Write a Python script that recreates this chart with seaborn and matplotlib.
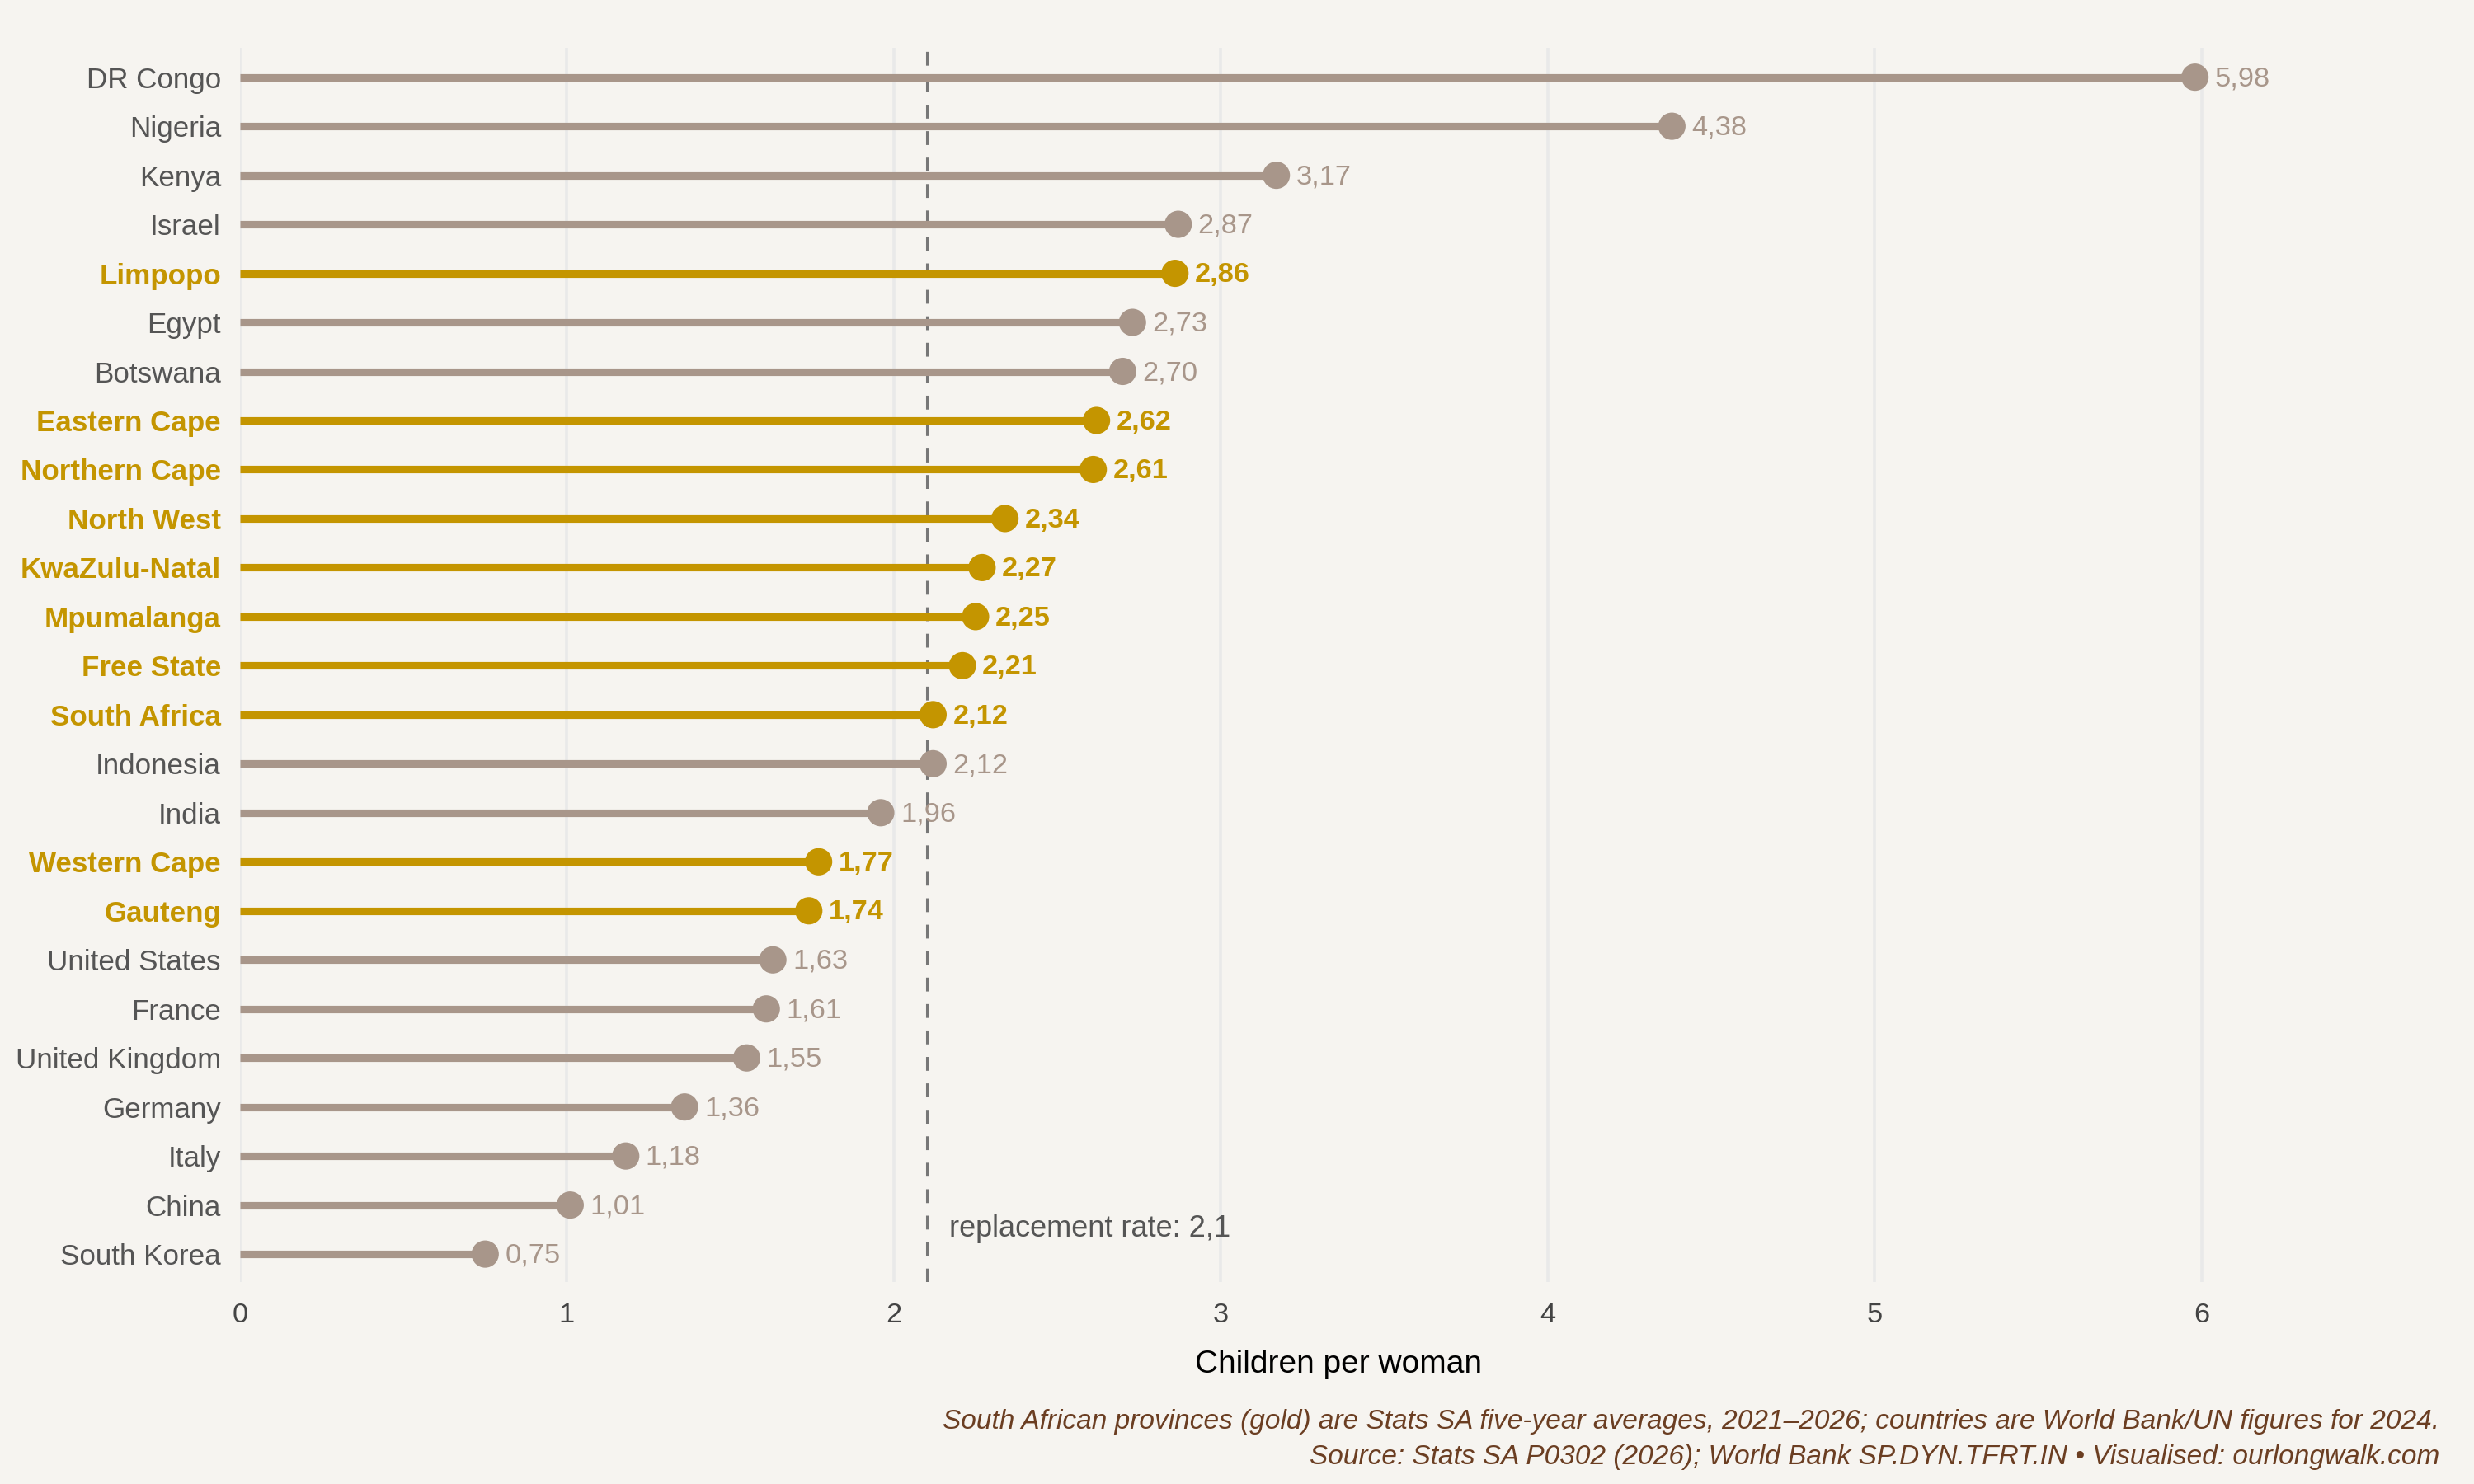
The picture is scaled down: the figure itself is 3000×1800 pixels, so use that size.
import numpy as np
import pandas as pd
import matplotlib
matplotlib.use("Agg")
import matplotlib.pyplot as plt
import seaborn as sns

# Data (top to bottom as in the chart)
places = [
    "DR Congo", "Nigeria", "Kenya", "Israel", "Limpopo", "Egypt", "Botswana",
    "Eastern Cape", "Northern Cape", "North West", "KwaZulu-Natal", "Mpumalanga",
    "Free State", "South Africa", "Indonesia", "India", "Western Cape", "Gauteng",
    "United States", "France", "United Kingdom", "Germany", "Italy", "China",
    "South Korea",
]
tfr = [
    5.98, 4.38, 3.17, 2.87, 2.86, 2.73, 2.70,
    2.62, 2.61, 2.34, 2.27, 2.25,
    2.21, 2.12, 2.12, 1.96, 1.77, 1.74,
    1.63, 1.61, 1.55, 1.36, 1.18, 1.01,
    0.75,
]
is_sa = [
    False, False, False, False, True, False, False,
    True, True, True, True, True,
    True, True, False, False, True, True,
    False, False, False, False, False, False,
    False,
]
replacement_rate = 2.1
x_ticks = [0, 1, 2, 3, 4, 5, 6]

GOLD = "#C49500"
TAUPE = "#A8968A"
BG = "#F6F4F0"

df = pd.DataFrame({"place": places, "tfr": tfr, "sa": is_sa})
df["pos"] = np.arange(len(df))
df["group"] = np.where(df["sa"], "SA", "World")

sns.set_theme(style="white")
plt.rcParams["font.family"] = ["Liberation Sans", "DejaVu Sans"]

fig = plt.figure(figsize=(15, 9), dpi=200, facecolor=BG)
ax = fig.add_axes([0.097, 0.1361, 0.888, 0.8317])
ax.set_facecolor(BG)

# stems
colors = [GOLD if s else TAUPE for s in df["sa"]]
ax.hlines(df["pos"], 0, df["tfr"], colors=colors, lw=3.3, zorder=2)

# dots
sns.scatterplot(data=df, x="tfr", y="pos", hue="group",
                palette={"SA": GOLD, "World": TAUPE}, s=142,
                edgecolor="none", linewidth=0, legend=False, zorder=3, ax=ax)

# value labels
for _, r in df.iterrows():
    lab = f"{r['tfr']:.2f}".replace(".", ",")
    ax.annotate(lab, (r["tfr"], r["pos"]), xytext=(8.6, -0.8),
                textcoords="offset points", ha="left", va="center",
                fontsize=12.4, color=GOLD if r["sa"] else TAUPE,
                fontweight="bold" if r["sa"] else "normal", zorder=4)

# replacement rate line
ax.axvline(replacement_rate, color="#777777", lw=1.1, ls=(0, (5.5, 5)), zorder=1)
ax.text(replacement_rate + 0.07, len(df) - 1.52,
        f"replacement rate: {str(replacement_rate).replace('.', ',')}",
        ha="left", va="center", fontsize=13, color="#555555")

ax.set_xlim(0, 6.72)
ax.set_ylim(len(df) - 1 + 0.57, -0.6)
ax.set_xticks(x_ticks)
ax.set_xticklabels([str(t) for t in x_ticks])
ax.set_yticks(df["pos"])
ax.set_yticklabels(df["place"])
for lbl, s in zip(ax.get_yticklabels(), df["sa"]):
    if s:
        lbl.set_color(GOLD)
        lbl.set_fontweight("bold")
    else:
        lbl.set_color("#555555")

ax.tick_params(axis="x", length=0, pad=9, labelsize=12.4, labelcolor="#444444")
ax.tick_params(axis="y", length=0, pad=8.3, labelsize=12.6)
ax.grid(axis="x", color="#E9E9E9", lw=1.3, zorder=0)
ax.grid(axis="y", visible=False)
ax.set_axisbelow(True)
for sp in ax.spines.values():
    sp.set_visible(False)

ax.set_xlabel("Children per woman", fontsize=14, color="black", labelpad=9.5)
ax.set_ylabel("")

fig.text(0.986, 0.0417,
         "South African provinces (gold) are Stats SA five-year averages, 2021\u20132026; "
         "countries are World Bank/UN figures for 2024.",
         ha="right", va="center", fontsize=12, style="italic", color="#6B3E22")
fig.text(0.986, 0.0178,
         "Source: Stats SA P0302 (2026); World Bank SP.DYN.TFRT.IN \u2022 Visualised: ourlongwalk.com",
         ha="right", va="center", fontsize=12, style="italic", color="#6B3E22")

fig.savefig("out.png", dpi=200, facecolor=BG)
